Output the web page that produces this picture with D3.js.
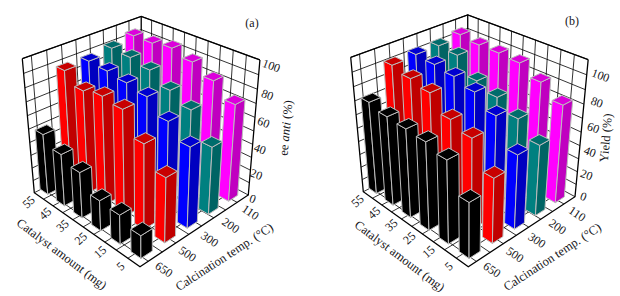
<!DOCTYPE html>
<html>
<head>
<meta charset="utf-8">
<script src="https://cdn.jsdelivr.net/npm/d3@7"></script>
<style>
body { margin: 0; background: #fff; }
text { font-family: "Liberation Serif", "Times New Roman", serif; fill: #161620; }
</style>
</head>
<body>
<div id="vis"></div>
<script>
const temps = ['650', '500', '300', '200', '110'];
const catalysts = [5, 15, 25, 35, 45, 55];
const zTicks = [0, 20, 40, 60, 80, 100];

// one row per temperature, same order as catalysts
const eeAnti = [
    [17, 22, 23, 35, 40, 47],
    [48, 63, 79, 81, 78, 86],
    [60, 70, 80, 83, 85, 86],
    [51, 70, 77, 85, 88, 89],
    [73, 83, 90, 94, 92, 92]
];
const yieldPct = [
    [41, 61, 65, 66, 67, 70],
    [48, 67, 72, 83, 86, 89],
    [55, 74, 83, 87, 89, 90],
    [53, 64, 72, 77, 89, 90],
    [73, 82, 89, 90, 90, 92]
];

// left, top and right face colour for each temperature row
const rowColors = [
    ['#000000', '#000000', '#000000'],
    ['#ff0000', '#c80000', '#c00000'],
    ['#0000ff', '#0000d0', '#0000c0'],
    ['#008080', '#006c6c', '#006464'],
    ['#ff00ff', '#dc00dc', '#c000c0']
];

const tempGrid = [4, 11, 18, 25, 32, 39, 46, 53].map(d => d / 60);
const catalystGrid = d3.range(5.7, 57, 5.7);
const zGrid = d3.range(0, 101, 10);

const svg = d3.select('#vis').append('svg').attr('width', 620).attr('height', 296);

function cross(a, b, c, d) {
    const d1 = [b[0] - a[0], b[1] - a[1]], d2 = [d[0] - c[0], d[1] - c[1]];
    const t = ((c[0] - a[0]) * d2[1] - (c[1] - a[1]) * d2[0]) / (d1[0] * d2[1] - d1[1] * d2[0]);
    return [a[0] + t * d1[0], a[1] + t * d1[1]];
}
// signed, so an end point running away from the vanishing point works too
function ratio(o, e, v) {
    const dx = v[0] - e[0], dy = v[1] - e[1];
    return ((e[0] - o[0]) * dx + (e[1] - o[1]) * dy) / (dx * dx + dy * dy);
}

// perspective box made from the visible corners of the frame
function makeProjection(c) {
    const vu = cross(c.front, c.right, c.topLeft, c.topBack);
    const vv = cross(c.front, c.left, c.topBack, c.topRight);
    const vz = cross(c.left, c.topLeft, c.right, c.topRight);
    const a = ratio(c.front, c.right, vu);
    const b = ratio(c.front, c.left, vv);
    const k = ratio(c.left, c.topLeft, vz) * (1 + b);
    return (u, v, w) => {
        const den = 1 + a * u + b * v + k * w;
        return [
            (c.front[0] + a * u * vu[0] + b * v * vv[0] + k * w * vz[0]) / den,
            (c.front[1] + a * u * vu[1] + b * v * vv[1] + k * w * vz[1]) / den
        ];
    };
}

const x = d3.scaleBand().domain(temps).range([0, 1]);
const y = d3.scaleLinear().domain([0, 57]).range([0, 1]);
const z = d3.scaleLinear().domain([0, 100]).range([0, 1]);
const line = d3.line();

function drawPanel(cfg) {
    const p = makeProjection(cfg.corners);
    const g = svg.append('g');
    const seg = (pts, w) => g.append('path').attr('d', line(pts)).attr('fill', 'none')
        .attr('stroke', '#000').attr('stroke-width', w);

    // grid on floor and the two back walls
    tempGrid.forEach(u => {
        seg([p(u, 0, 0), p(u, 1, 0), p(u, 1, 1)], 0.8);
    });
    catalystGrid.forEach(d => {
        const v = y(d);
        seg([p(0, v, 0), p(1, v, 0), p(1, v, 1)], 0.8);
    });
    zGrid.forEach(d => {
        const w = z(d);
        seg([p(0, 1, w), p(1, 1, w), p(1, 0, w)], 0.8);
    });
    seg([p(0, 1, 1), p(1, 1, 1), p(1, 0, 1)], 1.3);
    seg([p(1, 1, 0), p(1, 1, 1)], 1.3);
    seg([p(0, 1, 1), p(0, 1, 0), p(0, 0, 0), p(1, 0, 0), p(1, 0, 1)], 1.3);

    // bars, painted from the back corner forward
    const hu = x.bandwidth() * cfg.barU / 2, hv = (y(10) - y(0)) * cfg.barV / 2;
    const bars = [];
    temps.forEach((t, i) => catalysts.forEach((c, j) => {
        bars.push({ u: x(t) + x.bandwidth() / 2, v: y(c), w: z(cfg.values[i][j]), colors: rowColors[i] });
    }));
    bars.sort((m, n) => (n.u + n.v) - (m.u + m.v));

    const bar = g.selectAll('g.bar').data(bars).join('g').attr('class', 'bar')
        .attr('stroke', '#bdbdbd').attr('stroke-width', 1).attr('stroke-linejoin', 'round');
    bar.append('path').attr('fill', d => d.colors[0])
        .attr('d', d => line([p(d.u - hu, d.v + hv, 0), p(d.u - hu, d.v - hv, 0), p(d.u - hu, d.v - hv, d.w), p(d.u - hu, d.v + hv, d.w)]) + 'Z');
    bar.append('path').attr('fill', d => d.colors[2])
        .attr('d', d => line([p(d.u - hu, d.v - hv, 0), p(d.u + hu, d.v - hv, 0), p(d.u + hu, d.v - hv, d.w), p(d.u - hu, d.v - hv, d.w)]) + 'Z');
    bar.append('path').attr('fill', d => d.colors[1])
        .attr('d', d => line([p(d.u - hu, d.v - hv, d.w), p(d.u + hu, d.v - hv, d.w), p(d.u + hu, d.v + hv, d.w), p(d.u - hu, d.v + hv, d.w)]) + 'Z');

    const label = (pos, dx, dy, angle, size, txt) => g.append('text')
        .attr('transform', `translate(${pos[0] + dx},${pos[1] + dy}) rotate(${angle})`)
        .attr('text-anchor', 'middle').attr('dominant-baseline', 'middle')
        .style('font-size', size + 'px').text(txt);

    const zdx = d3.scaleLinear([0, 100], cfg.zdx), zdy = d3.scaleLinear([0, 100], cfg.zdy);
    catalysts.forEach(c => label(p(0, y(c), 0), -8, 8, -42, 12, c));
    temps.forEach(t => label(p(x(t) + x.bandwidth() / 2, 0, 0), 11, 12, 34, 12, t));
    zTicks.forEach(t => label(p(1, 0, z(t)), zdx(t), zdy(t), 20, 12, t));

    label(cfg.title1, 0, 0, 37, 12.5, 'Catalyst amount (mg)');
    label(cfg.title2, 0, 0, -33, 12.5, 'Calcination temp. (°C)');
    const zt = label(cfg.title3, 0, 0, -85, 12.5, '');
    cfg.zTitle.forEach(s => zt.append('tspan').style('font-style', s[1] ? 'italic' : 'normal').text(s[0]));
    label(cfg.tag, 0, 0, 0, 12, cfg.tagText);
}

drawPanel({
    corners: { front: [140, 266.7], right: [248.3, 195], left: [34.3, 192.7], topLeft: [22.3, 58.7], topBack: [142.3, 16], topRight: [260, 59] },
    values: eeAnti, barU: 0.47, barV: 0.47, zdx: [4, 11], zdy: [5, 7],
    title1: [61, 255], title2: [225, 258], title3: [287, 128],
    zTitle: [['ee ', false], ['anti', true], [' (%)', false]],
    tag: [252, 24], tagText: '(a)'
});
drawPanel({
    corners: { front: [468.3, 266.7], right: [575, 196.7], left: [363.3, 191.7], topLeft: [350.7, 57.3], topBack: [469.3, 14.3], topRight: [588.3, 58.3] },
    values: yieldPct, barU: 0.47, barV: 0.47, zdx: [8, 12], zdy: [1, 17],
    title1: [399, 257], title2: [553, 258], title3: [607, 138],
    zTitle: [['Yield (%)', false]],
    tag: [572, 22], tagText: '(b)'
});
</script>
</body>
</html>
